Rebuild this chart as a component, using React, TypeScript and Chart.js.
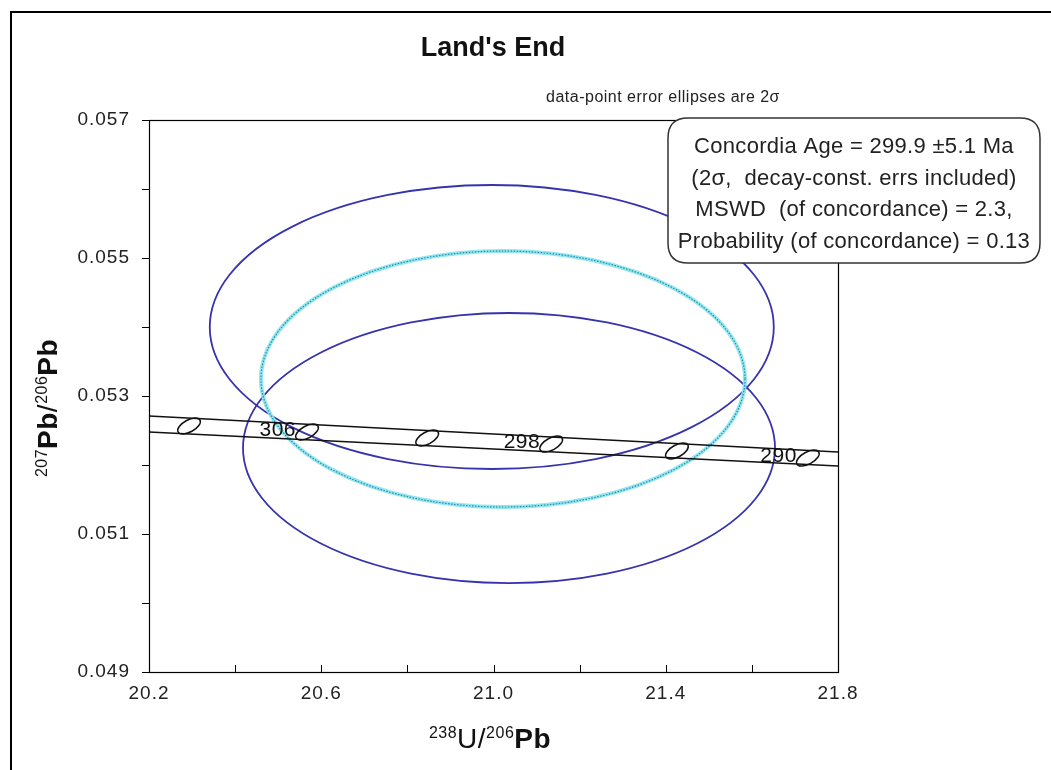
import React, { useEffect, useRef } from 'react';
import { Chart, registerables } from 'chart.js';

Chart.register(...registerables);

// ---- axis ranges / ticks ----
const X_MIN = 20.2;
const X_MAX = 21.8;
const X_STEP = 0.2;
const Y_MIN = 0.049;
const Y_MAX = 0.057;
const Y_STEP = 0.001;

// ---- concordia band (decay-constant error envelope) ----
const bandUpperX = [20.2, 21.0, 21.8];
const bandUpperY = [0.05271, 0.052449, 0.052188];
const bandLowerX = [20.2, 21.0, 21.8];
const bandLowerY = [0.052478, 0.052232, 0.051986];

// ---- concordia age markers (Ma) ----
const markerAges = [310, 306, 302, 298, 294, 290];
const markerX = [20.293, 20.567, 20.846, 21.134, 21.426, 21.730];
const markerY = [0.052565, 0.052478, 0.052391, 0.052304, 0.052203, 0.052101];
const labelledAges = [306, 298, 290];

// ---- error ellipses (2 sigma) ----
const ellipseKind = ['data', 'data', 'mean'];
const ellipseCX = [20.996, 21.036, 21.022];
const ellipseCY = [0.054, 0.052246, 0.053246];
const ellipseRX = [0.6549, 0.6177, 0.562];
const ellipseRY = [0.002058, 0.001957, 0.001855];

// ---- text ----
const titleText = "Land's End";
const noteText = 'data-point error ellipses are 2σ';
const boxLines = [
  'Concordia Age = 299.9 ±5.1 Ma',
  '(2σ,  decay-const. errs included)',
  'MSWD  (of concordance) = 2.3,',
  'Probability (of concordance) = 0.13',
];

const FONT = '"Liberation Sans", Arial, Helvetica, sans-serif';

type Part = { t: string; sup?: boolean; bold?: boolean };
const yTitleParts: Part[] = [
  { t: '207', sup: true },
  { t: 'Pb', bold: true },
  { t: '/' },
  { t: '206', sup: true },
  { t: 'Pb', bold: true },
];
const xTitleParts: Part[] = [
  { t: '238', sup: true },
  { t: 'U' },
  { t: '/' },
  { t: '206', sup: true },
  { t: 'Pb', bold: true },
];

function partFont(p: Part) {
  if (p.sup) return `16px ${FONT}`;
  return `${p.bold ? 'bold ' : ''}28px ${FONT}`;
}

function drawRich(ctx: CanvasRenderingContext2D, parts: Part[], cx: number, cy: number) {
  let total = 0;
  const widths: number[] = [];
  for (const p of parts) {
    ctx.font = partFont(p);
    const w = ctx.measureText(p.t).width;
    widths.push(w);
    total += w;
  }
  let x = cx - total / 2;
  ctx.textAlign = 'left';
  ctx.textBaseline = 'alphabetic';
  parts.forEach((p, i) => {
    ctx.font = partFont(p);
    ctx.fillText(p.t, x, p.sup ? cy - 10 : cy);
    x += widths[i];
  });
}

const decor = {
  id: 'decor',
  beforeDraw(chart: any) {
    const ctx = chart.ctx;
    ctx.save();
    ctx.fillStyle = '#ffffff';
    ctx.fillRect(0, 0, chart.width, chart.height);
    ctx.restore();
    ctx.letterSpacing = '1px';
  },
  beforeDatasetsDraw(chart: any) {
    const ctx = chart.ctx;
    ctx.letterSpacing = '0px';
    const { left, right, top, bottom } = chart.chartArea;
    const xs = chart.scales.x;
    const ys = chart.scales.y;
    ctx.save();
    // inward x tick marks
    ctx.strokeStyle = '#000';
    ctx.lineWidth = 1;
    for (const t of xs.ticks) {
      const px = Math.round(xs.getPixelForValue(t.value)) + 0.5;
      ctx.beginPath();
      ctx.moveTo(px, bottom);
      ctx.lineTo(px, bottom - 7);
      ctx.stroke();
    }
    // error ellipses
    ctx.beginPath();
    ctx.rect(left, top, right - left, bottom - top);
    ctx.clip();
    for (let i = 0; i < ellipseCX.length; i++) {
      const cx = xs.getPixelForValue(ellipseCX[i]);
      const cy = ys.getPixelForValue(ellipseCY[i]);
      const rx = Math.abs(xs.getPixelForValue(ellipseCX[i] + ellipseRX[i]) - cx);
      const ry = Math.abs(ys.getPixelForValue(ellipseCY[i] + ellipseRY[i]) - cy);
      if (ellipseKind[i] === 'mean') {
        ctx.beginPath();
        ctx.ellipse(cx, cy, rx, ry, 0, 0, Math.PI * 2);
        ctx.strokeStyle = 'rgba(140,228,240,0.95)';
        ctx.lineWidth = 4;
        ctx.setLineDash([]);
        ctx.stroke();
        ctx.beginPath();
        ctx.ellipse(cx, cy, rx, ry, 0, 0, Math.PI * 2);
        ctx.strokeStyle = '#25909f';
        ctx.lineWidth = 1.2;
        ctx.setLineDash([1.5, 1.5]);
        ctx.stroke();
        ctx.setLineDash([]);
      } else {
        ctx.beginPath();
        ctx.ellipse(cx, cy, rx, ry, 0, 0, Math.PI * 2);
        ctx.strokeStyle = '#3733ad';
        ctx.lineWidth = 1.8;
        ctx.stroke();
      }
    }
    ctx.restore();
  },
  afterDatasetsDraw(chart: any) {
    const ctx = chart.ctx;
    const meta = chart.getDatasetMeta(2);
    ctx.save();
    meta.data.forEach((pt: any, i: number) => {
      ctx.beginPath();
      ctx.ellipse(pt.x, pt.y, 12.5, 6, -0.5, 0, Math.PI * 2);
      ctx.strokeStyle = '#111';
      ctx.lineWidth = 1.5;
      ctx.stroke();
      if (labelledAges.includes(markerAges[i])) {
        ctx.fillStyle = '#111';
        ctx.font = `21px ${FONT}`;
        ctx.letterSpacing = '0.5px';
        ctx.textAlign = 'right';
        ctx.textBaseline = 'middle';
        ctx.fillText(String(markerAges[i]), pt.x - 11, pt.y - 2);
        ctx.letterSpacing = '0px';
      }
    });
    ctx.restore();
  },
  afterDraw(chart: any) {
    const ctx = chart.ctx;
    const { left, right, top, bottom } = chart.chartArea;
    ctx.save();
    ctx.letterSpacing = '0px';
    // plot frame
    ctx.strokeStyle = '#000';
    ctx.lineWidth = 1.2;
    ctx.strokeRect(Math.round(left) + 0.5, Math.round(top) + 0.5, Math.round(right - left), Math.round(bottom - top));

    // results box
    const bx = 668, by = 118, bw = 372, bh = 145, r = 20;
    ctx.beginPath();
    ctx.moveTo(bx + r, by);
    ctx.lineTo(bx + bw - r, by);
    ctx.quadraticCurveTo(bx + bw, by, bx + bw, by + r);
    ctx.lineTo(bx + bw, by + bh - r);
    ctx.quadraticCurveTo(bx + bw, by + bh, bx + bw - r, by + bh);
    ctx.lineTo(bx + r, by + bh);
    ctx.quadraticCurveTo(bx, by + bh, bx, by + bh - r);
    ctx.lineTo(bx, by + r);
    ctx.quadraticCurveTo(bx, by, bx + r, by);
    ctx.closePath();
    ctx.fillStyle = '#fff';
    ctx.fill();
    ctx.strokeStyle = '#333';
    ctx.lineWidth = 1.5;
    ctx.stroke();
    ctx.fillStyle = '#222';
    ctx.font = `22px ${FONT}`;
    ctx.letterSpacing = '0.3px';
    ctx.textAlign = 'center';
    ctx.textBaseline = 'middle';
    boxLines.forEach((ln, i) => ctx.fillText(ln, bx + bw / 2, 147 + i * 31.5));

    // title + note
    ctx.letterSpacing = '0px';
    ctx.fillStyle = '#111';
    ctx.font = `bold 27px ${FONT}`;
    ctx.fillText(titleText, 493, 49);
    ctx.font = `16px ${FONT}`;
    ctx.letterSpacing = '0.5px';
    ctx.fillStyle = '#222';
    ctx.fillText(noteText, 663, 98);
    ctx.letterSpacing = '0.5px';

    // axis titles
    ctx.fillStyle = '#111';
    drawRich(ctx, xTitleParts, 490, 748);
    ctx.save();
    ctx.translate(57, 408);
    ctx.rotate(-Math.PI / 2);
    drawRich(ctx, yTitleParts, 0, 0);
    ctx.restore();
    ctx.letterSpacing = '0px';

    // outer frame
    ctx.strokeStyle = '#000';
    ctx.lineWidth = 2;
    ctx.strokeRect(11, 12, 1100, 800);
    ctx.restore();
  },
};

export default function App() {
  const ref = useRef<HTMLCanvasElement>(null);
  useEffect(() => {
    if (!ref.current) return;
    const toPts = (xs: number[], ys: number[]) => xs.map((x, i) => ({ x, y: ys[i] }));
    const chart = new Chart(ref.current, {
      type: 'scatter',
      data: {
        datasets: [
          {
            type: 'line',
            label: 'upper',
            data: toPts(bandUpperX, bandUpperY),
            borderColor: '#111',
            borderWidth: 1.6,
            pointRadius: 0,
            fill: false,
          } as any,
          {
            type: 'line',
            label: 'lower',
            data: toPts(bandLowerX, bandLowerY),
            borderColor: '#111',
            borderWidth: 1.6,
            pointRadius: 0,
            fill: false,
          } as any,
          {
            label: 'ages',
            data: toPts(markerX, markerY),
            pointRadius: 0,
            pointHoverRadius: 0,
          },
        ],
      },
      options: {
        responsive: false,
        animation: false,
        devicePixelRatio: 1,
        events: [],
        layout: { padding: { left: 0, top: 120, right: 213, bottom: 0 } },
        plugins: { legend: { display: false }, tooltip: { enabled: false }, title: { display: false } },
        scales: {
          x: {
            type: 'linear',
            min: X_MIN,
            max: X_MAX,
            grid: { display: false },
            border: { display: false },
            ticks: {
              stepSize: X_STEP,
              autoSkip: false,
              maxRotation: 0,
              padding: 2,
              color: '#222',
              font: { family: FONT, size: 19 },
              callback: (v: any, i: number) => (i % 2 === 0 ? Number(v).toFixed(1) : ''),
            },
            afterFit: (s: any) => { s.height = 98; },
          },
          y: {
            type: 'linear',
            min: Y_MIN,
            max: Y_MAX,
            grid: { display: true, drawOnChartArea: false, drawTicks: true, tickLength: 7, color: '#000', lineWidth: 1 },
            border: { display: false },
            ticks: {
              stepSize: Y_STEP,
              autoSkip: false,
              padding: 12,
              color: '#222',
              font: { family: FONT, size: 19 },
              callback: (v: any, i: number) => (i % 2 === 0 ? Number(v).toFixed(3) : ''),
            },
            afterFit: (s: any) => { s.width = 149; },
          },
        },
      },
      plugins: [decor],
    });
    return () => chart.destroy();
  }, []);
  return (
    <div style={{ position: 'absolute', left: 0, top: 0, width: 1051, height: 770 }}>
      <canvas ref={ref} width={1051} height={770} style={{ display: 'block' }} />
    </div>
  );
}
